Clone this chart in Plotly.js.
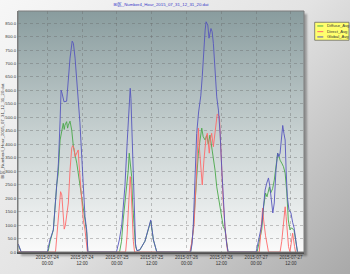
<!DOCTYPE html>
<html><head><meta charset="utf-8">
<script src="https://cdn.plot.ly/plotly-3.0.1.min.js"></script>
<style>
html,body{margin:0;padding:0;}
body{width:350px;height:274px;overflow:hidden;position:relative;background:linear-gradient(135deg,#f7f7f7 0%,#e3e3e3 50%,#a9a9a9 100%);}
#plotbg{position:absolute;left:18px;top:11px;width:286px;height:241.5px;background:linear-gradient(to bottom,#899c9e 0%,#c6d0d0 50%,#fbfbfb 100%);box-shadow:3px 3px 2px rgba(0,0,0,0.3);}
#chart{position:absolute;left:0;top:0;width:350px;height:274px;}
</style></head>
<body>
<div id="plotbg"></div>
<div id="chart"></div>
<script>
const chartTitle = 'BI区_Number4_Hour_2015_07_31_12_31_20.dat';
const seriesNames = ['Diffuse_Avg', 'Direct_Avg', 'Global_Avg'];
const seriesColors = ['#4aa84a', '#ff6a6a', '#5656bd'];

const xTickVals = ['2015-07-24 00:00','2015-07-24 12:00','2015-07-25 00:00','2015-07-25 12:00','2015-07-26 00:00','2015-07-26 12:00','2015-07-27 00:00','2015-07-27 12:00'];
const xTickText = ['2015-07-24<br>00:00','2015-07-24<br>12:00','2015-07-25<br>00:00','2015-07-25<br>12:00','2015-07-26<br>00:00','2015-07-26<br>12:00','2015-07-27<br>00:00','2015-07-27<br>12:00'];

const globalTime = ['2015-07-23 14:00','2015-07-23 15:00','2015-07-24 00:00','2015-07-24 00:55','2015-07-24 02:05','2015-07-24 03:00','2015-07-24 03:50','2015-07-24 04:25','2015-07-24 04:45','2015-07-24 05:05','2015-07-24 05:45','2015-07-24 06:40','2015-07-24 07:20','2015-07-24 07:50','2015-07-24 08:35','2015-07-24 09:00','2015-07-24 09:35','2015-07-24 10:10','2015-07-24 10:40','2015-07-24 11:15','2015-07-24 11:50','2015-07-24 12:25','2015-07-24 13:00','2015-07-24 13:35','2015-07-24 14:00',
'2015-07-24 23:50','2015-07-25 00:50','2015-07-25 01:40','2015-07-25 02:45','2015-07-25 03:35','2015-07-25 03:55','2015-07-25 04:15','2015-07-25 04:35','2015-07-25 04:50','2015-07-25 05:05','2015-07-25 05:40','2015-07-25 06:05','2015-07-25 06:25','2015-07-25 06:55','2015-07-25 07:55','2015-07-25 09:40','2015-07-25 10:50','2015-07-25 11:40','2015-07-25 12:35','2015-07-25 13:45',
'2015-07-26 01:25','2015-07-26 01:55','2015-07-26 02:20','2015-07-26 02:55','2015-07-26 03:30','2015-07-26 04:10','2015-07-26 04:55','2015-07-26 05:25','2015-07-26 06:00','2015-07-26 06:25','2015-07-26 06:45','2015-07-26 07:20','2015-07-26 07:45','2015-07-26 08:25','2015-07-26 08:50','2015-07-26 09:15','2015-07-26 09:50','2015-07-26 10:25','2015-07-26 11:00','2015-07-26 11:20','2015-07-26 11:35','2015-07-26 12:10','2015-07-26 12:40','2015-07-26 13:15','2015-07-26 13:50','2015-07-26 14:20',
'2015-07-27 00:00','2015-07-27 00:40','2015-07-27 01:20','2015-07-27 01:55','2015-07-27 02:30','2015-07-27 03:05','2015-07-27 03:40','2015-07-27 04:15','2015-07-27 04:45','2015-07-27 05:25','2015-07-27 05:45','2015-07-27 06:15','2015-07-27 06:50','2015-07-27 07:25','2015-07-27 07:50','2015-07-27 08:15','2015-07-27 08:50','2015-07-27 09:10','2015-07-27 09:35','2015-07-27 10:00','2015-07-27 10:20','2015-07-27 10:45','2015-07-27 11:20','2015-07-27 12:00','2015-07-27 12:35','2015-07-27 13:05','2015-07-27 13:40','2015-07-27 14:15'];
const globalAvg = [30,0,0,45,82,200,330,490,601,590,558,560,650,720,783,775,720,651,564,480,367,242,131,82,0,
0,45,100,242,416,490,560,608,570,490,250,110,30,5,8,40,82,119,45,0,
0,30,100,280,440,520,580,651,775,824,855,843,794,830,818,775,676,576,527,479,440,304,182,94,30,0,
0,30,70,100,182,230,256,275,242,182,145,182,304,367,354,367,453,470,440,416,304,205,156,145,110,90,45,0];

const diffuseTime = ['2015-07-23 14:00','2015-07-23 15:00','2015-07-24 00:15','2015-07-24 01:00','2015-07-24 02:05','2015-07-24 02:40','2015-07-24 03:15','2015-07-24 03:45','2015-07-24 04:25','2015-07-24 05:00','2015-07-24 05:30','2015-07-24 05:50','2015-07-24 06:05','2015-07-24 06:40','2015-07-24 07:00','2015-07-24 07:15','2015-07-24 07:50','2015-07-24 08:25','2015-07-24 09:00','2015-07-24 10:10','2015-07-24 11:15','2015-07-24 12:25','2015-07-24 13:00','2015-07-24 13:35','2015-07-24 14:00',
'2015-07-25 00:55','2015-07-25 01:35','2015-07-25 02:10','2015-07-25 02:50','2015-07-25 03:30','2015-07-25 03:55','2015-07-25 04:15','2015-07-25 04:35','2015-07-25 05:05','2015-07-25 05:25','2015-07-25 06:00','2015-07-25 06:25','2015-07-25 06:55','2015-07-25 07:55','2015-07-25 09:40','2015-07-25 10:50','2015-07-25 11:40','2015-07-25 12:35','2015-07-25 13:45',
'2015-07-26 01:25','2015-07-26 02:20','2015-07-26 02:55','2015-07-26 03:30','2015-07-26 04:05','2015-07-26 04:40','2015-07-26 05:15','2015-07-26 05:45','2015-07-26 06:25','2015-07-26 07:00','2015-07-26 07:30','2015-07-26 08:05','2015-07-26 08:40','2015-07-26 09:15','2015-07-26 09:50','2015-07-26 10:25','2015-07-26 11:00','2015-07-26 11:35','2015-07-26 12:10','2015-07-26 12:40','2015-07-26 13:15','2015-07-26 13:50','2015-07-26 14:20',
'2015-07-27 00:20','2015-07-27 01:00','2015-07-27 01:55','2015-07-27 02:35','2015-07-27 03:15','2015-07-27 03:45','2015-07-27 04:35','2015-07-27 05:00','2015-07-27 05:40','2015-07-27 06:15','2015-07-27 06:50','2015-07-27 07:25','2015-07-27 07:55','2015-07-27 08:15','2015-07-27 08:50','2015-07-27 09:25','2015-07-27 10:00','2015-07-27 10:35','2015-07-27 11:05','2015-07-27 11:40','2015-07-27 12:15','2015-07-27 13:05','2015-07-27 13:40','2015-07-27 14:15'];
const diffuseAvg = [25,0,0,40,82,180,250,290,416,450,478,455,471,484,460,471,486,453,391,330,256,168,119,70,0,
0,40,119,182,260,304,367,330,280,182,82,20,5,8,40,80,115,45,0,
0,82,182,280,367,416,460,428,416,434,400,434,391,360,304,242,200,168,131,94,82,30,0,
0,40,82,168,219,205,242,219,235,267,317,367,355,341,330,317,293,219,119,82,90,80,40,0];

const directTime = ['2015-07-23 14:00','2015-07-23 15:00','2015-07-24 02:50','2015-07-24 03:20','2015-07-24 04:00','2015-07-24 04:35','2015-07-24 05:00','2015-07-24 05:30','2015-07-24 05:50','2015-07-24 06:15','2015-07-24 06:40','2015-07-24 07:15','2015-07-24 07:50','2015-07-24 08:25','2015-07-24 08:45','2015-07-24 09:10','2015-07-24 09:35','2015-07-24 10:10','2015-07-24 10:40','2015-07-24 10:55','2015-07-24 11:15','2015-07-24 11:50','2015-07-24 12:25','2015-07-24 13:00','2015-07-24 13:30','2015-07-24 13:50',
'2015-07-25 03:00','2015-07-25 03:30','2015-07-25 03:55','2015-07-25 04:15','2015-07-25 04:35','2015-07-25 04:55','2015-07-25 05:20','2015-07-25 05:40','2015-07-25 06:05',
'2015-07-26 01:10','2015-07-26 01:45','2015-07-26 02:35','2015-07-26 03:15','2015-07-26 03:45','2015-07-26 04:05','2015-07-26 04:25','2015-07-26 04:55','2015-07-26 05:25','2015-07-26 06:00','2015-07-26 06:45','2015-07-26 07:10','2015-07-26 07:50','2015-07-26 08:15','2015-07-26 08:40','2015-07-26 09:15','2015-07-26 09:50','2015-07-26 10:10','2015-07-26 10:35','2015-07-26 11:20','2015-07-26 11:35','2015-07-26 12:10','2015-07-26 12:40','2015-07-26 13:15','2015-07-26 13:50','2015-07-26 14:10',
'2015-07-27 01:05','2015-07-27 01:40','2015-07-27 02:15','2015-07-27 02:35','2015-07-27 03:15','2015-07-27 04:15','2015-07-27 08:15','2015-07-27 08:50','2015-07-27 09:25','2015-07-27 10:00','2015-07-27 10:20','2015-07-27 10:45','2015-07-27 11:10','2015-07-27 11:40','2015-07-27 12:15','2015-07-27 12:35','2015-07-27 13:15','2015-07-27 13:35'];
const directAvg = [3,0,0,60,145,224,212,145,85,100,140,182,304,386,395,386,354,367,379,330,280,219,119,82,20,0,
0,60,150,230,280,230,120,40,0,
0,33,100,242,391,460,390,304,249,341,428,441,367,420,441,391,453,490,512,505,440,304,182,94,20,0,
0,82,163,119,60,0,0,40,120,168,131,82,20,0,50,70,20,0];

const xTimes = [diffuseTime, directTime, globalTime];
const yVals = [diffuseAvg, directAvg, globalAvg];

const traces = seriesNames.map((n, i) => ({
  type: 'scatter', mode: 'lines', name: n,
  x: xTimes[i], y: yVals[i],
  line: {color: seriesColors[i], width: 0.9},
  showlegend: false
}));

// plot area in pixels: left 18, right 304, top 11, bottom 252.5
const L = 18, W = 286, T = 11, H = 241.5;
const px = v => (v - L) / W;
const py = v => (T + H - v) / H;

const shapes = [
  {type:'rect', xref:'paper', yref:'paper', x0:0, x1:1, y0:0, y1:1, line:{color:'#7d7d7d', width:1}, layer:'above'},
  {type:'rect', xref:'paper', yref:'paper', x0:px(314.7), x1:px(349), y0:py(40.3), y1:py(22.3), fillcolor:'#ffff6e', line:{color:'#6a6a6a', width:0.8}, layer:'above'}
];
const annotations = [
  {xref:'paper', yref:'paper', x:px(2.8), y:py(131), text:chartTitle, textangle:-90, showarrow:false, xanchor:'center', yanchor:'middle', font:{size:4.3, color:'#444', family:'Liberation Sans, Noto Sans CJK SC, sans-serif'}}
];
const legendY = [26, 31.7, 37];
seriesNames.forEach((n, i) => {
  shapes.push({type:'line', xref:'paper', yref:'paper', x0:px(317.3), x1:px(323.3), y0:py(legendY[i]), y1:py(legendY[i]), line:{color:seriesColors[i], width:1}, layer:'above'});
  annotations.push({xref:'paper', yref:'paper', x:px(325), y:py(legendY[i]), text:n, showarrow:false, xanchor:'left', yanchor:'middle', font:{size:4.2, color:'#333', family:'Liberation Sans, sans-serif'}});
});

const layout = {
  width: 350, height: 274,
  margin: {l: 18, r: 46, t: 11, b: 21.5, pad: 0},
  paper_bgcolor: 'rgba(0,0,0,0)',
  plot_bgcolor: 'rgba(0,0,0,0)',
  font: {family: 'Liberation Sans, Noto Sans CJK SC, sans-serif', size: 4.3, color: '#333'},
  title: {text: chartTitle, x: 0.46, xanchor: 'center', xref: 'container', y: 1 - 4.5/274, yanchor: 'middle', yref: 'container', font: {size: 4.3, color: '#3535c8', family: 'Liberation Sans, Noto Sans CJK SC, sans-serif'}},
  showlegend: false,
  xaxis: {
    type: 'date', range: ['2015-07-23 13:54', '2015-07-27 16:30'],
    tickmode: 'array', tickvals: xTickVals, ticktext: xTickText,
    showgrid: true, gridcolor: 'rgba(100,100,100,0.45)', griddash: 'dot', gridwidth: 0.8,
    showline: true, linecolor: '#505050', linewidth: 2,
    ticks: '', tickfont: {size: 4.5, color: '#333'},
    zeroline: false, fixedrange: true
  },
  yaxis: {
    range: [0, 895], dtick: 50, tick0: 0, tickformat: '.1f',
    showgrid: true, gridcolor: 'rgba(100,100,100,0.45)', griddash: 'dot', gridwidth: 0.8,
    showline: true, linecolor: '#7d7d7d', linewidth: 1,
    ticks: '', tickfont: {size: 4.3, color: '#333'},
    zeroline: false, fixedrange: true
  },
  shapes: shapes,
  annotations: annotations
};

Plotly.newPlot('chart', traces, layout, {staticPlot: true, displayModeBar: false});
</script>
</body></html>
